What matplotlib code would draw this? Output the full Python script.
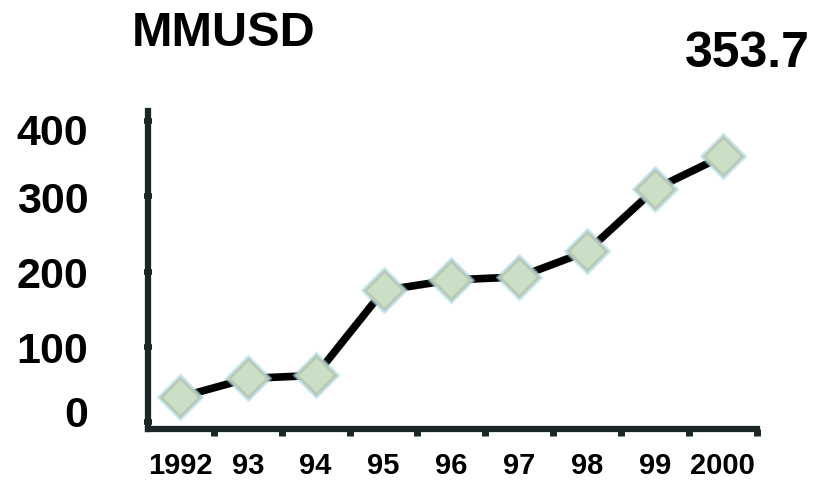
import numpy as np
import matplotlib.pyplot as plt
from matplotlib.transforms import ScaledTranslation

years = ["1992", "93", "94", "95", "96", "97", "98", "99", "2000"]
mmusd = [33, 58, 62, 175, 189, 193, 227, 310, 353.7]
yticks = [0, 100, 200, 300, 400]

plt.rcParams['font.family'] = ['Liberation Sans', 'DejaVu Sans']
plt.rcParams['font.weight'] = 'bold'

fig = plt.figure(figsize=(8.15, 4.81), dpi=100)
ax = fig.add_axes([0.1816, 0.106, 0.747, 0.661])

x = np.arange(len(years))
ax.plot(x, mmusd, color='black', lw=5.5, solid_capstyle='butt', zorder=2)
# soft halo under each diamond
ax.plot(x, mmusd, ls='none', marker='D', ms=22, mfc='#bfe3ec', mec='#a9d8e6',
        mew=2, alpha=0.6, zorder=3)
ax.plot(x, mmusd, ls='none', marker='D', ms=19.5, mfc='#c9dfc6', mec='#b9c9b6',
        mew=2, zorder=4)

ax.set_xlim(-0.47, 8.5)
ax.set_ylim(-9.3, 413.6)

for s in ['top', 'right']:
    ax.spines[s].set_visible(False)
for s in ['left', 'bottom']:
    ax.spines[s].set_color('#1b2626')
    ax.spines[s].set_linewidth(4.5)

ax.set_yticks(yticks)
ax.set_yticklabels([str(v) for v in yticks], fontsize=31, fontweight='bold')
ax.tick_params(axis='y', direction='inout', length=6, width=4, color='#1b2626', pad=40)
# the 0 label sits a little high, the 400 label a little low
ylbls = ax.get_yticklabels()
ylbls[0].set_transform(ylbls[0].get_transform() + ScaledTranslation(0, 8 / 72, fig.dpi_scale_trans))
ylbls[-1].set_transform(ylbls[-1].get_transform() + ScaledTranslation(0, -5 / 72, fig.dpi_scale_trans))

ax.set_xticks(x)
ax.set_xticklabels(years, fontsize=21, fontweight='bold')
ax.set_xticks(x + 0.5, minor=True)
ax.tick_params(axis='x', which='major', length=0, pad=16)
ax.tick_params(axis='x', which='minor', direction='out', length=5, width=5, color='#1b2626')

fig.text(0.162, 0.93, "MMUSD", fontsize=35, fontweight='bold', va='center', ha='left')
fig.text(0.994, 0.888, f"{mmusd[-1]}", fontsize=36, fontweight='bold', va='center', ha='right')

fig.savefig("out.png", dpi=100)
